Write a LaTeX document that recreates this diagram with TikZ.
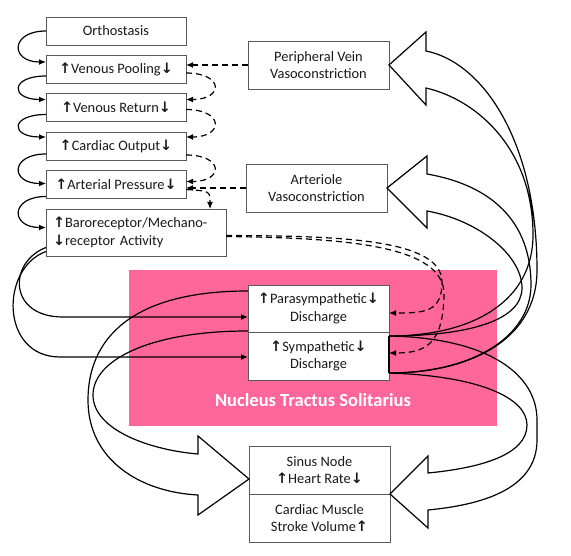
\documentclass[tikz,border=0pt]{standalone}
\usepackage{fontspec}
\setmainfont{Carlito}
\newfontfamily\arrowsfont{DejaVu Sans}
\usepackage{xcolor}
\definecolor{ntsPink}{HTML}{FF6699}
\definecolor{boxGray}{HTML}{595959}
\definecolor{darkText}{HTML}{1A1A1A}
\usepackage{tikz}
\usetikzlibrary{
    arrows.meta,
    positioning,
    calc
}
\newcommand{\incr}{{\arrowsfont\bfseries\fontsize{14.4}{15}\selectfont ↑}}
\newcommand{\decr}{{\arrowsfont\bfseries\fontsize{14.4}{15}\selectfont ↓}}
\tikzset{
    % Base style for all boxes
    base/.style={
        font=\fontsize{14.4}{17.5}\selectfont,
        align=center,
        text=darkText,
        inner sep=2pt,
        outer sep=0pt,
    },
    % Plain boxes of the chain
    box/.style={
        base,
        rectangle,
        draw=boxGray,
        line width=0.9pt,
        fill=white,
        minimum width=140pt,
        minimum height=28pt,
    },
    % Two-line boxes
    tallbox/.style={
        box,
        minimum width=141pt,
        minimum height=48pt,
    },
    % Receptor box, left aligned
    widebox/.style={
        box,
        align=left,
        text width=166pt,
        inner xsep=7pt,
        minimum height=47pt,
    },
    % Pink nucleus region
    region/.style={
        fill=ntsPink,
        minimum width=368pt,
        minimum height=156pt,
        inner sep=0pt,
    },
    region label/.style={
        font=\fontsize{18.5}{22}\selectfont\bfseries,
        text=white,
    },
    % Small arrows
    arrow/.style={
        -{Latex[length=7pt, width=6pt]},
        line width=1.2pt,
        draw=black,
    },
    arrow dashed/.style={
        arrow,
        dash pattern=on 6pt off 4pt,
    },
    % Hollow block arrows
    blockarrow/.style={
        line width=1.2pt,
        draw=black,
        line join=miter,
    },
}

\begin{document}
\begin{tikzpicture}[x=1pt, y=-1pt]
    \useasboundingbox (0,0) rectangle (571,556);

    \node (nts) [region] at (313,348) {};
    \node (ntslabel) [region label] at (313,400) {Nucleus Tractus Solitarius};

    % chain on the left
    \node (orth) [box] at (116,31) {Orthostasis};
    \node (vp) [box, below=10pt of orth] {\incr Venous Pooling\decr};
    \node (vr) [box, below=10.5pt of vp] {\incr Venous Return\decr};
    \node (co) [box, below=10.5pt of vr] {\incr Cardiac Output\decr};
    \node (ap) [box, below=10.5pt of co] {\incr Arterial Pressure\decr};
    \node (baro) [widebox, anchor=north west] at ([yshift=-10.5pt]ap.south west)
        {\incr Baroreceptor/Mechano-\\\decr receptor Activity};

    % effectors
    \node (pv) [tallbox] at (318.5,65) {Peripheral Vein\\Vasoconstriction};
    \node (av) [tallbox] at (316.5,188) {Arteriole\\Vasoconstriction};

    % nucleus
    \node (para) [tallbox, minimum height=47pt] at (318.5,308.5) {\incr Parasympathetic\decr\\Discharge};
    \node (sym) [tallbox, below=0pt of para] {\incr Sympathetic\decr\\Discharge};

    % heart
    \node (sinus) [tallbox] at (319.5,470) {Sinus Node\\\incr Heart Rate\decr};
    \node (card) [tallbox, below=0pt of sinus] {Cardiac Muscle\\Stroke Volume\incr};

    \coordinate (s1) at ([yshift=-4pt]sym.north east);
    \coordinate (s2) at ([yshift=7pt]sym.south east);
    \coordinate (p1) at ([yshift=-6pt]para.north west);
    \coordinate (p2) at ([yshift=1pt]para.south west);
    \coordinate (hr) at ([yshift=-9pt]sinus.west);

    % solid chain arrows
    \draw [arrow] (orth.west) .. controls +(-36,0) and +(-36,0) .. ([yshift=7pt]vp.west);
    \draw [arrow] ([yshift=-7pt]vp.west) .. controls +(-36,0) and +(-36,0) .. ([yshift=8pt]vr.west);
    \draw [arrow] ([yshift=-7pt]vr.west) .. controls +(-36,0) and +(-36,0) .. ([yshift=9pt]co.west);
    \draw [arrow] ([yshift=-8pt]co.west) .. controls +(-36,0) and +(-36,0) .. ([yshift=1pt]ap.west);
    \draw [arrow] ([yshift=-12pt]ap.west) .. controls +(-36,0) and +(-36,0) .. ([yshift=5pt]baro.west);
    \draw [arrow] ([yshift=-15pt]baro.west) .. controls (8,262) and (8,317) .. (63,317) -- ([yshift=-8.5pt]para.west);
    \draw [arrow] ([yshift=-19pt]baro.west) .. controls (0,268) and (0,357) .. (60,357) -- ([yshift=-1pt]sym.west);

    % dashed feedback
    \draw [arrow dashed] (pv.west) -- (pv.west -| vp.east);
    \draw [arrow dashed] (av.west) -- (av.west -| ap.east);
    \draw [arrow dashed] ([yshift=-4pt]vp.east) .. controls +(38,0) and +(38,0) .. ([yshift=8pt]vr.east);
    \draw [arrow dashed] ([yshift=-2pt]vr.east) .. controls +(38,0) and +(38,0) .. ([yshift=9pt]co.east);
    \draw [arrow dashed] ([yshift=-9pt]co.east) .. controls +(38,0) and +(38,0) .. ([yshift=3pt]ap.east);
    \draw [arrow dashed] ([yshift=-5pt]ap.east) .. controls (210,191) .. ([xshift=-16pt]baro.north east);
    \draw [arrow dashed] ([yshift=-3pt]baro.east) .. controls (335,236) and (442,238) .. (442,282)
        .. controls (442,312) and (425,313) .. ([yshift=-4.5pt]para.east);
    \draw [arrow dashed] ([yshift=-4pt]baro.east) .. controls (345,238) and (445,245) .. (444,295)
        .. controls (443,345) and (425,353) .. ([yshift=3pt]sym.east);

    % block arrows out of the nucleus
    \draw [blockarrow, line width=2.2pt] (s1) -- (s2);
    \draw [blockarrow] (s2) .. controls (470,373) and (537,340) .. (537,270)
        .. controls (537,140) and (482,62) .. (426,51) -- (426,32) -- (pv.east) -- (426,105) -- (426,88)
        .. controls (478,100) and (533,150) .. (533,235) .. controls (533,300) and (475,336) .. (s1);
    \draw [blockarrow] (s2) .. controls (475,373) and (531,335) .. (531,285)
        .. controls (531,220) and (490,185) .. (427,174) -- (427,156) -- (av.east) -- (427,228) -- (427,211)
        .. controls (478,220) and (522,255) .. (522,288) .. controls (522,320) and (470,336) .. (s1);
    \draw [blockarrow] (s1) .. controls (490,338) and (537,375) .. (537,420) -- (537,440)
        .. controls (537,490) and (480,505) .. (428,510) -- (428,528) -- (sinus.south east) -- (428,456) -- (428,473)
        .. controls (480,468) and (527,455) .. (527,425) .. controls (527,398) and (480,376) .. (s2);
    \draw [blockarrow] (p1) .. controls (130,291) and (88,340) .. (88,400)
        .. controls (88,460) and (140,492) .. (198,495) -- (198,515) -- (hr) -- (198,436) -- (198,454)
        .. controls (150,450) and (93,430) .. (93,395) .. controls (93,360) and (150,331) .. (p2);
\end{tikzpicture}
\end{document}
